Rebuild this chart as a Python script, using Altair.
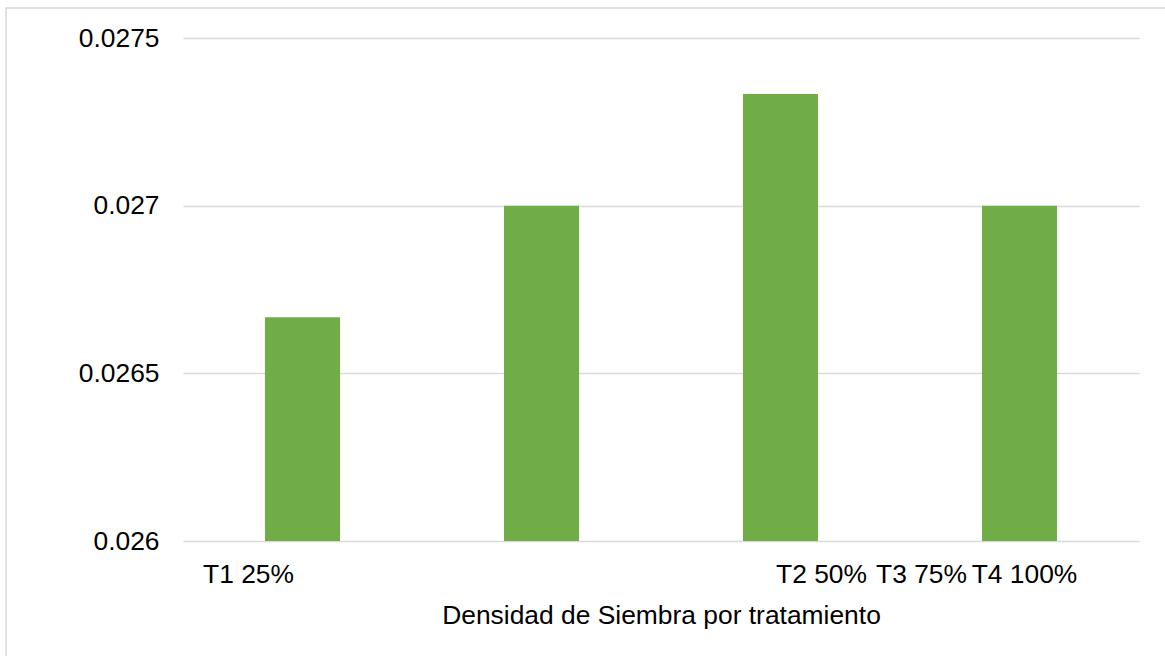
import altair as alt
import pandas as pd

categories = ["T1 25%", "T2 50%", "T3 75%", "T4 100%"]
values = [0.026667, 0.027, 0.027333, 0.027]
y_ticks = [0.026, 0.0265, 0.027, 0.0275]
label_offsets = [-54, 280, 141, 5]

df = pd.DataFrame({"cat": categories, "val": values})

offset_cond = {
    "condition": [
        {"test": f"datum.value == '{c}'", "value": o}
        for c, o in zip(categories, label_offsets)
    ],
    "value": 0,
}

FONT = "Liberation Sans"
FS = 26.4

border = alt.Chart(pd.DataFrame({"a": [0]})).mark_rect(
    fill=None, stroke="#D9D9D9", strokeWidth=1.5, clip=False
).encode(
    x=alt.value(-177), x2=alt.value(1100),
    y=alt.value(-30), y2=alt.value(800),
)

bars = alt.Chart(df).mark_bar(color="#70AD47", clip=True).encode(
    x=alt.X(
        "cat:N",
        sort=categories,
        scale=alt.Scale(paddingInner=0.686, paddingOuter=0.343),
        axis=alt.Axis(
            title="Densidad de Siembra por tratamiento",
            titleFont=FONT, titleFontSize=FS, titleFontWeight="normal",
            titleColor="#000000", titleBaseline="alphabetic", titleY=82,
            labelFont=FONT, labelFontSize=FS, labelColor="#000000",
            labelAngle=0, labelAlign="center", labelBaseline="top",
            labelPadding=20, labelOverlap=False, labelFlush=False,
            labelOffset=offset_cond,
            ticks=False, domain=False, grid=False,
        ),
    ),
    y=alt.Y(
        "val:Q",
        scale=alt.Scale(domain=[0.026, 0.0275], zero=False, nice=False),
        axis=alt.Axis(
            title=None, values=y_ticks, format="~g",
            labelFont=FONT, labelFontSize=FS, labelColor="#000000",
            labelPadding=24, ticks=False, domain=False,
            grid=True, gridColor="#D9D9D9", gridWidth=1.5,
        ),
    ),
)

chart = alt.layer(border, bars).properties(
    width=956, height=503,
    autosize=alt.AutoSizeParams(type="none"),
    padding={"left": 183, "top": 38, "right": 26, "bottom": 115},
    background="white",
).configure_view(stroke=None)

chart.save("out.html", embed_options={"renderer": "svg", "actions": False})
